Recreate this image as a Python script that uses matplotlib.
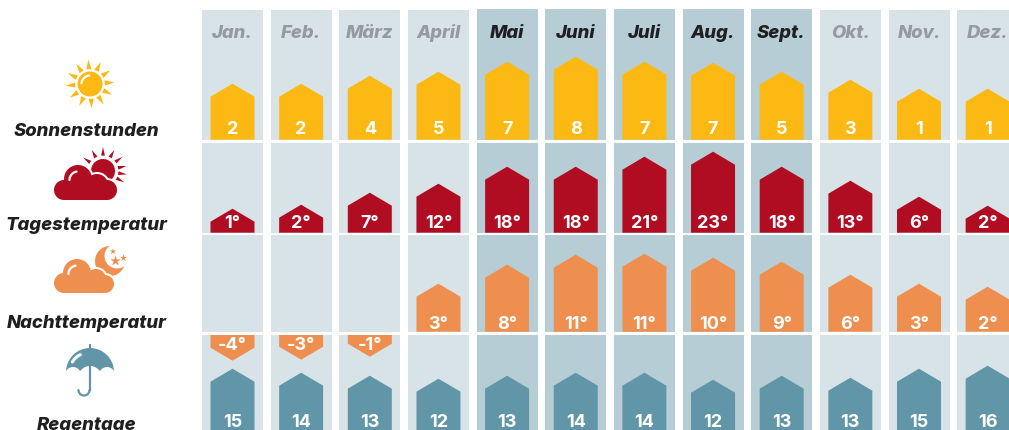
import numpy as np
import matplotlib
matplotlib.use('Agg')
import matplotlib.pyplot as plt
from matplotlib.patches import Circle, Polygon, Rectangle, Wedge

months = ['Jan.', 'Feb.', 'März', 'April', 'Mai', 'Juni', 'Juli', 'Aug.', 'Sept.', 'Okt.', 'Nov.', 'Dez.']
summer = ['Mai', 'Juni', 'Juli', 'Aug.', 'Sept.']

# printed values
sun_hours = [2, 2, 4, 5, 7, 8, 7, 7, 5, 3, 1, 1]
day_temp = [1, 2, 7, 12, 18, 18, 21, 23, 18, 13, 6, 2]
night_temp = [-4, -3, -1, 3, 8, 11, 11, 10, 9, 6, 3, 2]
rain_days = [15, 14, 13, 12, 13, 14, 14, 12, 13, 13, 15, 16]

# bar lengths, they are not quite linear in the printed values
sun_len = [56, 56, 64, 68, 78, 83, 78, 77, 68, 60, 51, 51]
day_len = [24, 28, 40, 49, 66, 66, 76, 81, 66, 52, 36, 27]
night_len = [26, 25, 22, 48, 67, 77, 78, 74, 70, 57, 48, 45]
rain_len = [62, 58, 55, 52, 55, 58, 58, 51, 55, 53, 62, 65]

W, H = 1009, 431
LIGHT = '#d8e3e8'
DARK = '#b6cdd5'
YELLOW = '#fdb913'
RED = '#b00d23'
ORANGE = '#ee8f4f'
TEAL = '#6196a8'
INK = '#1f1f21'
GREY = '#929ba0'
FONT = 'Inter'

PITCH = 68.65
X0 = 232.5
SHIFT = 0.7

fig = plt.figure(figsize=(W / 100, H / 100), dpi=100, facecolor='white')


def row_axes(top, base):
    top += SHIFT
    base += SHIFT
    ax = fig.add_axes([0, 1 - base / H, 1, (base - top) / H])
    ax.set_xlim(-X0 / PITCH, (W - X0) / PITCH)
    ax.set_ylim(0, base - top)
    ax.axis('off')
    for i, m in enumerate(months):
        ax.bar(i, base - top, width=61 / PITCH, bottom=0, color=DARK if m in summer else LIGHT, linewidth=0)
    return ax


def house(ax, i, length, color):
    half = 22 / PITCH
    ax.fill([i - half, i - half, i, i + half, i + half],
            [0, length - 13, length, length - 13, 0],
            color=color, linewidth=0, zorder=3)


def hanging(ax, i, length, color, top):
    half = 22 / PITCH
    ax.fill([i - half, i - half, i, i + half, i + half],
            [top, top - length + 13, top - length, top - length + 13, top],
            color=color, linewidth=0, zorder=3)


def value(ax, i, y, s):
    ax.text(i, y, s, color='white', fontsize=13, fontweight='bold', family=FONT,
            ha='center', va='baseline', zorder=4)


ax1 = row_axes(10, 140)
ax2 = row_axes(143, 233)
ax3 = row_axes(235.5, 332)
ax4 = row_axes(335, 431)

for i, m in enumerate(months):
    if m in summer:
        ax1.bar(i, 1, width=61 / PITCH, bottom=130, color=DARK, linewidth=0, clip_on=False)
    ax1.text(i, 103, m, color=INK if m in summer else GREY, fontsize=13.3, fontweight=800,
             style='italic', family=FONT, ha='center', va='baseline', zorder=4)

    house(ax1, i, sun_len[i], YELLOW)
    value(ax1, i, 7, str(sun_hours[i]))

    house(ax2, i, day_len[i], RED)
    value(ax2, i, 6, '%d°' % day_temp[i])

    if night_temp[i] < 0:
        hanging(ax4, i, night_len[i], ORANGE, 96)
        value(ax4, i, 82, '%d°' % night_temp[i])
    else:
        house(ax3, i, night_len[i], ORANGE)
        value(ax3, i, 4, '%d°' % night_temp[i])

    house(ax4, i, rain_len[i], TEAL)
    value(ax4, i, 5, str(rain_days[i]))

# icons and row names, in pixel coordinates
ov = fig.add_axes([0, 0, 1, 1])
ov.set_xlim(0, W)
ov.set_ylim(H, 0)
ov.axis('off')
ov.patch.set_alpha(0)


def arc(cx, cy, r, a0, a1, color='white', lw=1.6):
    t = np.radians(np.linspace(a0, a1, 30))
    ov.plot(cx + r * np.cos(t), cy - r * np.sin(t), color=color, lw=lw, solid_capstyle='round', zorder=6)


def rays(cx, cy, r0, r1, angles, color, half=7):
    for a in angles:
        t = np.radians(a)
        d = np.radians(half + 3)
        ov.add_patch(Polygon([(cx + r0 * np.cos(t - d), cy - r0 * np.sin(t - d)),
                              (cx + r1 * np.cos(t), cy - r1 * np.sin(t)),
                              (cx + r0 * np.cos(t + d), cy - r0 * np.sin(t + d))],
                             color=color, lw=0))


def cloud(blobs, x0, x1, y0, y1, color):
    # white halo first, it cuts the cloud free of what sits behind it
    for grow, c in ((2, 'white'), (0, color)):
        for cx, cy, r in blobs:
            ov.add_patch(Circle((cx, cy), r + grow, color=c, lw=0))
        ov.add_patch(Rectangle((x0 - grow, y0 - grow), x1 - x0 + 2 * grow, y1 - y0 + 2 * grow, color=c, lw=0))


# sun
rays(90, 85, 15, 24.5, np.arange(0, 360, 30) + 4, YELLOW)
ov.add_patch(Circle((90, 85), 12.5, color=YELLOW, lw=0))
arc(90, 85, 8.5, 95, 175)

# day cloud
rays(103, 172, 15.5, 24, [-28, -8, 12, 36, 62, 90, 118, 146], RED, half=4)
ov.add_patch(Circle((103, 172), 12, color=RED, lw=0))
cloud([(64, 191, 10), (78, 180, 14), (97, 186, 11), (107, 191, 10)], 64, 107, 185, 201, RED)
arc(78, 181, 8.5, 100, 180)

# night cloud
ov.add_patch(Wedge((110, 262), 15, 0, 360, color=ORANGE, lw=0))
ov.add_patch(Circle((117, 257), 12.5, color='white', lw=0))
ov.scatter([113, 115.5, 123.5], [252.5, 262, 259], marker='*', s=[22, 60, 28], color=ORANGE, lw=0, zorder=5)
cloud([(64, 284, 10), (77, 274, 14), (96, 280, 10), (105, 285, 9)], 64, 105, 280, 294, ORANGE)
arc(77, 275, 8.5, 100, 180)

# umbrella
ov.add_patch(Wedge((90, 373), 24, 180, 360, color=TEAL, lw=0))
ov.add_patch(Circle((73, 376), 8, color='white', lw=0, zorder=3))
ov.add_patch(Circle((90, 379), 12, color='white', lw=0, zorder=3))
ov.add_patch(Circle((107, 376), 8, color='white', lw=0, zorder=3))
ov.plot([90, 90], [345.5, 350], color=TEAL, lw=1.5, zorder=4)
ov.plot([89.5, 89.5], [368, 391], color=TEAL, lw=1.6, zorder=4)
arc(84, 391, 5.5, 0, -180, TEAL)
arc(88, 372, 18, 115, 150, 'white', 2.2)

names = ['Sonnenstunden', 'Tagestemperatur', 'Nachttemperatur', 'Regentage']
name_y = [136.5, 230, 328, 430]
for n, y in zip(names, name_y):
    ov.text(86.5, y, n, color=INK, fontsize=13.3, fontweight=800, style='italic',
            family=FONT, ha='center', va='baseline')

fig.savefig('out.png', dpi=100, facecolor='white')
